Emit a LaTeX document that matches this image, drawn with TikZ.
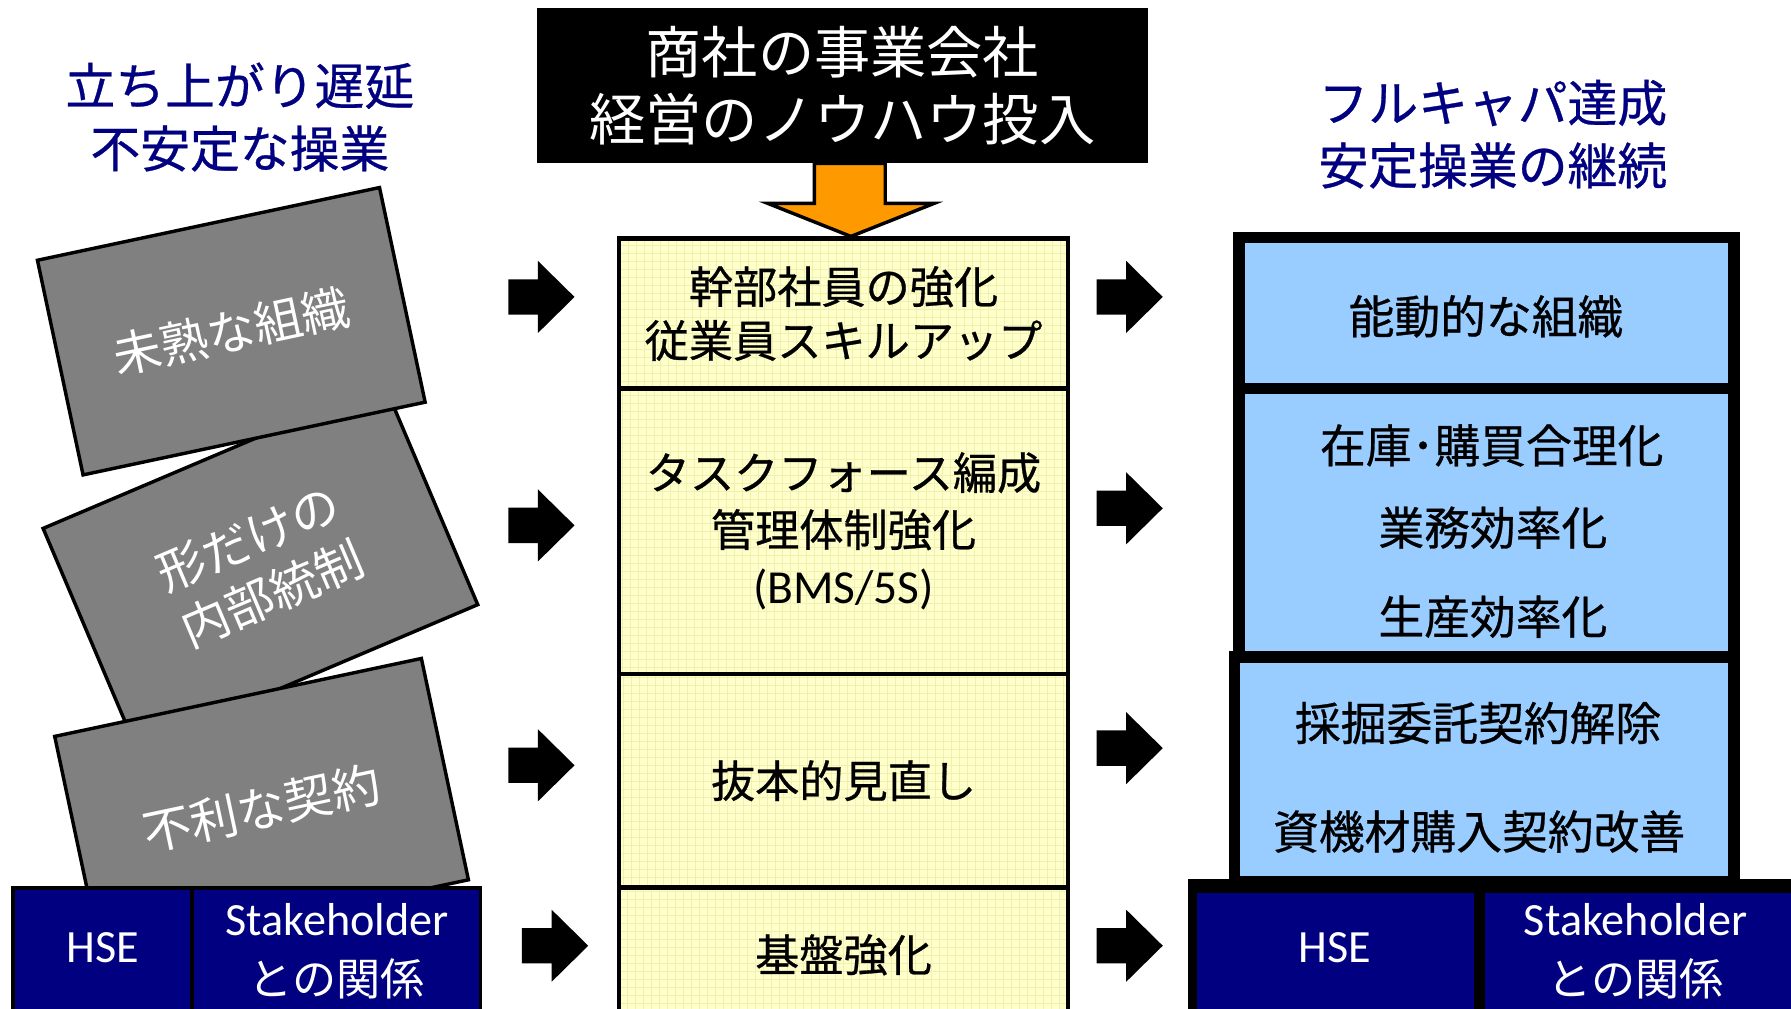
\documentclass[tikz,border=0pt]{standalone}
\usepackage{fontspec}
\setmainfont{Noto Sans CJK JP}[FakeBold=0.6]
\newfontfamily\thin{Noto Sans CJK JP}
\newfontfamily\lat{Carlito}
\definecolor{navy}{RGB}{0,0,128}
\definecolor{ltblue}{RGB}{153,204,255}
\definecolor{ltyel}{RGB}{255,255,204}
\definecolor{gridy}{RGB}{240,240,175}
\definecolor{orng}{RGB}{255,153,0}
\definecolor{boxgray}{RGB}{128,128,128}
\tikzset{
  ttl/.style={text=navy, font=\fontsize{12.4pt}{15.6pt}\selectfont, align=center},
  gbox/.style={draw=black, line width=0.03cm, fill=boxgray, text=white, align=center,
    font=\thin\fontsize{12pt}{15pt}\selectfont, inner sep=0pt},
  midrow/.style={draw=black, line width=0.04cm, fill=ltyel, minimum width=3.93cm, inner sep=0pt,
    align=center, font=\fontsize{11pt}{13.4pt}\selectfont,
    path picture={\draw[gridy, line width=0.15pt, step=0.07cm]
      (path picture bounding box.south west) grid (path picture bounding box.north east);}},
  rrow/.style={draw=black, line width=0.1cm, fill=ltblue, inner sep=0pt},
  rtxt/.style={font=\fontsize{11.4pt}{13pt}\selectfont},
  ntxt/.style={text=white, font=\lat\fontsize{11.5pt}{13pt}\selectfont},
  jtxt/.style={text=white, font=\thin\fontsize{11pt}{13pt}\selectfont},
  navycell/.style={draw=black, line width=0.03cm, fill=navy},
  barrow/.pic={\fill[black] (-29,-15.5) -- (-3,-15.5) -- (-3,-31.5) -- (29,0)
     -- (-3,31.5) -- (-3,15.5) -- (-29,15.5) -- cycle;}
}
\begin{document}
\begin{tikzpicture}[x=0.01cm,y=-0.01cm]
\useasboundingbox (0,0) rectangle (1568,883);
\clip (0,0) rectangle (1568,883);
\fill[white] (0,0) rectangle (1568,883);

% titles
\node[ttl] (tl) at (210,102.5) {立ち上がり遅延\\不安定な操業};
\node[ttl] (tr) at (1307,117.5) {フルキャパ達成\\安定操業の継続};

% top box
\node[fill=black, text=white, minimum width=5.35cm, minimum height=1.36cm, align=center,
  font=\thin\fontsize{14pt}{16.5pt}\selectfont, inner sep=0pt] (top) at (737.5,75)
  {商社の事業会社\\経営のノウハウ投入};

% left tilted boxes
\node[gbox, rotate=23, minimum width=3.24cm, minimum height=2.10cm] (b2) at (228,496) {形だけの\\内部統制};
\node[gbox, rotate=12, minimum width=3.06cm, minimum height=1.92cm] (b1) at (202.5,290) {未熟な組織};
\node[gbox, rotate=12, minimum width=3.28cm, minimum height=1.98cm] (b3) at (229,707.5) {不利な契約};

% left bottom cells
\node[navycell, minimum width=1.565cm, minimum height=1.15cm, inner sep=0pt] (lh) at (89.75,835) {};
\node[navycell, minimum width=2.525cm, minimum height=1.15cm, inner sep=0pt] (ls) at (294.25,835) {};
\node[ntxt] (lhs) at (90,830) {HSE};
\node[ntxt] (lst) at (295,805) {Stakeholder};
\node[jtxt] (lrel) at (295,857) {との関係};

% middle column
\node[midrow, minimum height=1.31cm] (m1) at (738.5,274.5) {幹部社員の強化\\従業員スキルアップ};
\node[midrow, minimum height=2.50cm, font=\fontsize{11pt}{14.2pt}\selectfont] (m2) at (738.5,465)
  {タスクフォース編成\\管理体制強化\\{\lat\fontsize{11.8pt}{14.2pt}\selectfont (BMS/5S)}};
\node[midrow, minimum height=1.87cm] (m3) at (738.5,683.5) {抜本的見直し};
\node[midrow, minimum height=1.18cm] (m4) at (738.5,836) {基盤強化};

% orange arrow
\draw[fill=orng, line width=0.03cm, line join=miter] (713,143) -- (775,143) -- (775,178) -- (818,178)
  -- (745,207) -- (672,178) -- (713,178) -- cycle;

% right column
\node[rrow, minimum width=4.37cm, minimum height=1.97cm] (r3) at (1299.5,673.5) {};
\node[rrow, minimum width=4.33cm, minimum height=2.35cm] (r2) at (1301.5,457.5) {};
\node[rrow, minimum width=4.33cm, minimum height=1.32cm] (r1) at (1301.5,274) {};
\node[rtxt] (r1t) at (1301,277) {能動的な組織};
\node[rtxt] (r2a) at (1306,390) {在庫･購買合理化};
\node[rtxt] (r2b) at (1307,462) {業務効率化};
\node[rtxt] (r2c) at (1307,540) {生産効率化};
\node[rtxt] (r3a) at (1294,633) {採掘委託契約解除};
\node[rtxt] (r3b) at (1295,728) {資機材購入契約改善};

% right bottom
\fill[black] (1040,770) rectangle (1570,890);
\node[fill=navy, minimum width=2.42cm, minimum height=1.08cm, inner sep=0pt] (rh) at (1169,836) {};
\node[fill=navy, minimum width=2.70cm, minimum height=1.08cm, inner sep=0pt] (rs) at (1435,836) {};
\node[ntxt] (rhs) at (1169,830) {HSE};
\node[ntxt] (rst) at (1432,805) {Stakeholder};
\node[jtxt] (rrel) at (1432,857) {との関係};

% block arrows
\pic at (474,260) {barrow};
\pic at (474,460) {barrow};
\pic at (474,670) {barrow};
\pic at (486,828) {barrow};
\pic at (989,260) {barrow};
\pic at (989,445) {barrow};
\pic at (989,655) {barrow};
\pic at (989,828) {barrow};
\end{tikzpicture}
\end{document}
